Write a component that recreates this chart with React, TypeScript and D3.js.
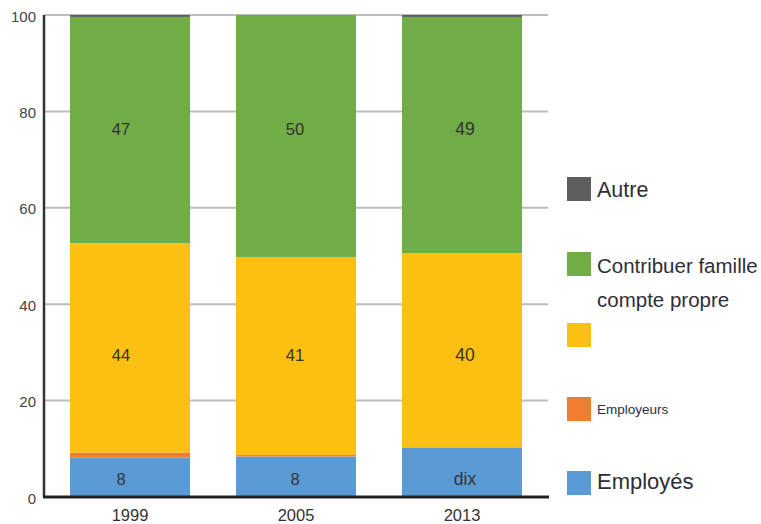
import { useEffect, useRef } from 'react';
import * as d3 from 'd3';

const years = ['1999', '2005', '2013'];
const employes = [8.2, 8.4, 10.3];
const employeurs = [1.0, 0.3, 0];
const comptePropre = [43.5, 41.1, 40.3];
const famille = [46.9, 50.2, 49.0];
const autre = [0.4, 0, 0.4];
const segLabels = [
  ['8', '8', 'dix'],
  ['', '', ''],
  ['44', '41', '40'],
  ['47', '50', '49'],
  ['', '', ''],
];
// where each layer's value label sits, in percent
const labelAt = [3.7, 0, 29.4, 76.3, 0];
const colors = ['#5b9bd5', '#ed7d31', '#fcc013', '#70ad47', '#5f5f5f'];
const yTicks = [0, 20, 40, 60, 80, 100];

const W = 761;
const H = 524;
const FONT = '"Liberation Sans", Arial, sans-serif';
const labelNudge = [-9, -1, 3];
const labelSize = [16.5, 16.5, 17.5];

export default function App() {
  const svgRef = useRef<SVGSVGElement>(null);

  useEffect(() => {
    if (!svgRef.current) return;
    const svg = d3.select(svgRef.current);
    svg.selectAll('*').remove();

    const x = d3.scaleBand<string>()
      .domain(years)
      .range([47, 545])
      .paddingInner(0.277)
      .paddingOuter(0.1385);
    const y = d3.scaleLinear().domain([0, 100]).range([497, 15]);

    // grid
    svg.append('g')
      .selectAll('line')
      .data(yTicks.filter(t => t > 0))
      .join('line')
      .attr('x1', 44)
      .attr('x2', 548)
      .attr('y1', d => y(d))
      .attr('y2', d => y(d))
      .attr('stroke', '#bdbdbd')
      .attr('stroke-width', 2);

    // stacked bars
    const rows = years.map((yr, i) => ({
      year: yr,
      s0: employes[i],
      s1: employeurs[i],
      s2: comptePropre[i],
      s3: famille[i],
      s4: autre[i],
    }));
    const keys = ['s0', 's1', 's2', 's3', 's4'];
    const stack = d3.stack<any>().keys(keys)(rows);

    stack.forEach((layer, li) => {
      const g = svg.append('g');
      g.selectAll('rect')
        .data(layer)
        .join('rect')
        .attr('x', d => x(d.data.year) as number)
        .attr('width', x.bandwidth())
        .attr('y', d => y(d[1]))
        .attr('height', d => Math.max(0, y(d[0]) - y(d[1])))
        .attr('fill', colors[li]);
      g.selectAll('text')
        .data(layer)
        .join('text')
        .attr('x', (d, i) => (x(d.data.year) as number) + x.bandwidth() / 2 + labelNudge[i])
        .attr('y', y(labelAt[li]))
        .attr('text-anchor', 'middle')
        .attr('dominant-baseline', 'central')
        .attr('fill', '#333')
        .attr('font-family', FONT)
        .attr('font-size', (_, i) => labelSize[i])
        .text((_, i) => segLabels[li][i]);
    });

    // axes
    svg.append('line')
      .attr('x1', 44).attr('x2', 44)
      .attr('y1', y(100)).attr('y2', y(0))
      .attr('stroke', '#333').attr('stroke-width', 2.5);
    svg.append('line')
      .attr('x1', 43).attr('x2', 549)
      .attr('y1', y(0)).attr('y2', y(0))
      .attr('stroke', '#222').attr('stroke-width', 3);

    svg.append('g')
      .selectAll('text')
      .data(yTicks)
      .join('text')
      .attr('x', 36)
      .attr('y', d => y(d) + 1)
      .attr('text-anchor', 'end')
      .attr('dominant-baseline', 'central')
      .attr('fill', '#444')
      .attr('font-family', FONT)
      .attr('font-size', 15)
      .text(d => d);

    svg.append('g')
      .selectAll('text')
      .data(years)
      .join('text')
      .attr('x', d => (x(d) as number) + x.bandwidth() / 2)
      .attr('y', 521)
      .attr('text-anchor', 'middle')
      .attr('fill', '#333')
      .attr('font-family', FONT)
      .attr('font-size', 16.5)
      .text(d => d);

    // legend (top to bottom: Autre, famille, compte propre, Employeurs, Employés)
    const legend = [
      { c: colors[4], sq: 177, label: 'Autre', ty: 190, fs: 21.5 },
      { c: colors[3], sq: 252, label: 'Contribuer famille', ty: 265, fs: 20.5 },
      { c: colors[2], sq: 323, label: 'compte propre', ty: 299, fs: 20.5 },
      { c: colors[1], sq: 397, label: 'Employeurs', ty: 409, fs: 13.5 },
      { c: colors[0], sq: 471, label: 'Employés', ty: 481, fs: 22 },
    ];
    const lg = svg.append('g');
    legend.forEach(l => {
      lg.append('rect')
        .attr('x', 567).attr('y', l.sq)
        .attr('width', 24).attr('height', 24)
        .attr('fill', l.c);
      lg.append('text')
        .attr('x', 597).attr('y', l.ty)
        .attr('dominant-baseline', 'central')
        .attr('fill', '#2e2e38')
        .attr('font-family', FONT)
        .attr('font-size', l.fs)
        .text(l.label);
    });
  }, []);

  return (
    <svg
      ref={svgRef}
      width={W}
      height={H}
      style={{ position: 'absolute', left: 0, top: 0, background: '#fff' }}
    />
  );
}
